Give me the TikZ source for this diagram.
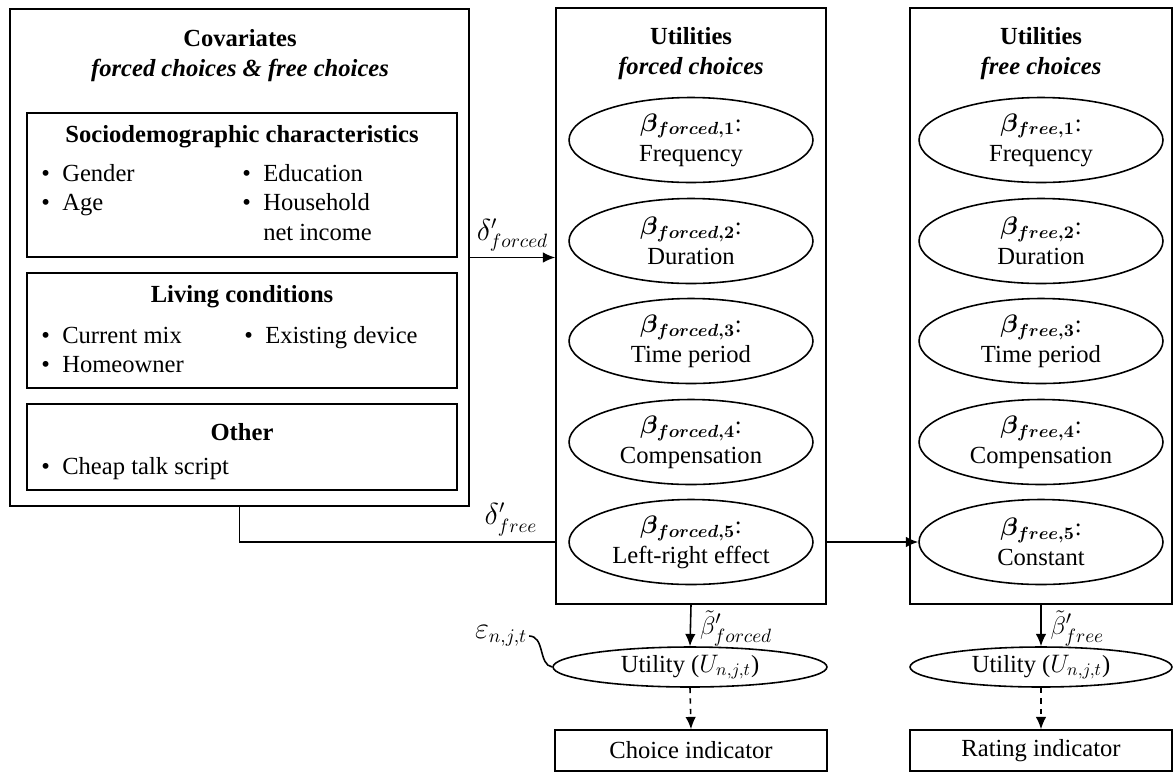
\documentclass[tikz,border=0pt]{standalone}
\usepackage{amsmath,bm}
\usepackage{fontspec}
\setmainfont{Liberation Serif}
\usetikzlibrary{arrows.meta,shapes.geometric,positioning}
\newcommand{\fsz}{\fontsize{14}{17}\selectfont}
\tikzset{box/.style={draw,line width=0.9pt,inner sep=0pt},
  util/.style={draw,ellipse,line width=0.9pt,inner sep=0pt,minimum width=4.88cm,minimum height=1.7cm,align=center},
  head/.style={font=\fsz\bfseries,align=center},
  items/.style={inner sep=0pt,anchor=base west},
  lbl/.style={font=\fontsize{16}{19}\selectfont,inner sep=1pt},
  arr/.style={-{Latex[length=7pt,width=6pt]},line width=0.9pt}}

\begin{document}
\begin{tikzpicture}[x=0.02cm,y=-0.02cm,font=\fsz]
\useasboundingbox (0,0) rectangle (1173,772);
% covariates
\node[box,minimum width=9.18cm,minimum height=9.94cm] (cov) at (239.5,257.5) {};
\node[head] (covT) at (240,56) {Covariates\\\textit{forced choices \& free choices}};
\node[box,minimum width=8.6cm,minimum height=2.88cm] (socio) at (242,185) {};
\node[head] (socioT) at (242,137) {Sociodemographic characteristics};
\node[items] (socioL) at (41,181) {\begin{tabular}[t]{@{}c@{\hspace{7pt}}l@{}}\textbullet & Gender\\ \textbullet & Age\end{tabular}};
\node[items] (socioR) at (242,181) {\begin{tabular}[t]{@{}c@{\hspace{7pt}}l@{}}\textbullet & Education\\ \textbullet & Household\\ & net income\end{tabular}};
\node[box,minimum width=8.6cm,minimum height=2.3cm] (living) at (242,330.5) {};
\node[head] (livingT) at (242,297) {Living conditions};
\node[items] (livingL) at (41,343) {\begin{tabular}[t]{@{}c@{\hspace{7pt}}l@{}}\textbullet & Current mix\\ \textbullet & Homeowner\end{tabular}};
\node[items] (livingR) at (244,343) {\begin{tabular}[t]{@{}c@{\hspace{7pt}}l@{}}\textbullet & Existing device\end{tabular}};
\node[box,minimum width=8.6cm,minimum height=1.72cm] (other) at (242,447) {};
\node[head] (otherT) at (242,432) {Other};
\node[items] (otherL) at (41,474) {\begin{tabular}[t]{@{}c@{\hspace{7pt}}l@{}}\textbullet & Cheap talk script\end{tabular}};
% utilities
\node[box,minimum width=5.4cm,minimum height=11.92cm] (forced) at (691,306) {};
\node[head] (forcedT) at (691,54) {Utilities\\\textit{forced choices}};
\node[box,minimum width=5.24cm,minimum height=11.92cm] (free) at (1041,306) {};
\node[head] (freeT) at (1041,54) {Utilities\\\textit{free choices}};
\foreach \i/\y/\a/\b in {1/140/Frequency/Frequency,2/241/Duration/Duration,3/341/Time period/Time period,
  4/442/Compensation/Compensation,5/542/Left-right effect/Constant}{
  \node[util] (f\i) at (691,\y) {$\bm{\beta_{forced,\i}}$:\\\a};
  \node[util] (r\i) at (1041,\y) {$\bm{\beta_{free,\i}}$:\\\b};
}
% bottom
\node[util,minimum width=5.48cm,minimum height=0.8cm] (uf) at (690,667) {Utility ($U_{n,j,t}$)};
\node[util,minimum width=5.24cm,minimum height=0.8cm] (ur) at (1041,667) {Utility ($U_{n,j,t}$)};
\node[box,minimum width=5.44cm,minimum height=0.82cm] (choice) at (691,750.5) {Choice indicator};
\node[box,minimum width=5.24cm,minimum height=0.82cm] (rating) at (1041,750.5) {Rating indicator};
\node[lbl] (eps) at (501,636) {$\varepsilon_{n,j,t}$};
% connectors
\draw[arr] (cov.east) -- (cov.east -| forced.west) node[lbl,midway,above=2pt] (dforced) {$\delta'_{forced}$};
\draw[line width=0.9pt] (cov.south) |- (f5 -| forced.west) node[lbl,pos=0.93,above=2pt] (dfree) {$\delta'_{free}$};
\draw[arr] (f5 -| forced.east) -- (r5.west);
\draw[arr] (forced.south) -- (uf.north) node[lbl,font=\fontsize{15}{18}\selectfont,pos=0.57,right=4pt] (bforced) {$\tilde{\beta}'_{forced}$};
\draw[arr] (free.south) -- (ur.north) node[lbl,font=\fontsize{15}{18}\selectfont,pos=0.57,right=4pt] (bfree) {$\tilde{\beta}'_{free}$};
\draw[arr,dashed] (uf.south) -- (choice.north);
\draw[arr,dashed] (ur.south) -- (rating.north);
\draw[line width=0.9pt] (eps.east) .. controls +(16,0) and +(-14,-2) .. (uf.west);
\end{tikzpicture}
\end{document}
